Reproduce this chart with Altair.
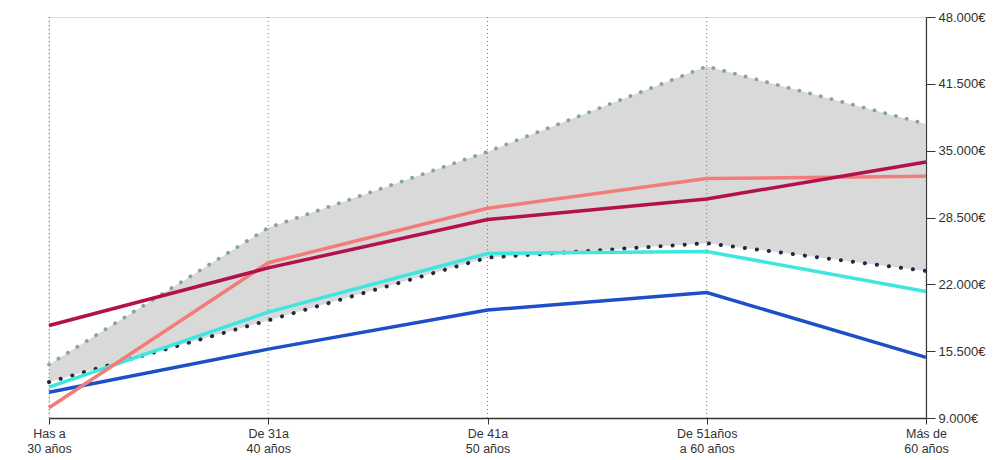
import altair as alt
import pandas as pd

categories = ["Has a\n30 años", "De 31a\n40 años", "De 41a\n50 años", "De 51años\na 60 años", "Más de\n60 años"]
area_top = [14200, 27500, 34900, 43200, 37600]
dark_dotted = [12500, 18500, 24600, 26000, 23300]
crimson = [18000, 23600, 28300, 30300, 33900]
salmon = [10000, 24100, 29400, 32300, 32500]
cyan = [12000, 19300, 25000, 25200, 21300]
blue = [11500, 15700, 19500, 21200, 14900]
y_ticks = [9000, 15500, 22000, 28500, 35000, 41500, 48000]

df = pd.DataFrame({
    "cat": categories,
    "top": area_top,
    "dark": dark_dotted,
    "crimson": crimson,
    "salmon": salmon,
    "cyan": cyan,
    "blue": blue,
})

x = alt.X("cat:N", sort=categories,
          scale=alt.Scale(type="point", padding=0),
          axis=alt.Axis(title=None, labelAngle=0, labelExpr="split(datum.label, '\\n')",
                        labelFontSize=12.5, labelColor="#333", labelFont="Liberation Sans",
                        domainColor="#333", domainWidth=1.5, tickColor="#333", tickSize=6,
                        labelPadding=3, labelLineHeight=15))
yscale = alt.Scale(domain=[9000, 48000], nice=False, zero=False)
yaxis = alt.Axis(title=None, orient="right", values=y_ticks, grid=False,
                 labelExpr="replace(format(datum.value, ','), ',', '.') + '€'",
                 labelFontSize=13, labelColor="#333", labelFont="Liberation Sans",
                 domainColor="#333", domainWidth=1.2, tickColor="#333", tickSize=9,
                 labelPadding=3)

base = alt.Chart(df)

area = base.mark_area(color="#d9d9d9", opacity=1).encode(
    x=x, y=alt.Y("top:Q", scale=yscale, axis=yaxis), y2="dark:Q")

grid = base.mark_rule(color="#777", strokeWidth=1, strokeDash=[1, 3]).encode(
    x=x, y=alt.value(0), y2=alt.value(401))

top_line = base.mark_line(color="#86a796", strokeWidth=3.8, strokeDash=[0.1, 11],
                          strokeCap="round").encode(x=x, y=alt.Y("top:Q", scale=yscale))
dark_line = base.mark_line(color="#262640", strokeWidth=4, strokeDash=[0.1, 12],
                           strokeCap="round").encode(x=x, y=alt.Y("dark:Q", scale=yscale))

def solid(field, color):
    return base.mark_line(color=color, strokeWidth=3.5).encode(
        x=x, y=alt.Y(f"{field}:Q", scale=yscale))

chart = alt.layer(
    area, grid, top_line, dark_line,
    solid("blue", "#1e4fc8"),
    solid("cyan", "#3ee6dd"),
    solid("salmon", "#f27d78"),
    solid("crimson", "#b3114b"),
).properties(
    width=877, height=401,
    autosize=alt.AutoSizeParams(type="none"),
    padding={"left": 41, "top": 9, "right": 68, "bottom": 40},
).configure_view(stroke=None).configure(background="white")

chart.save("out.html", embed_options={"renderer": "svg", "actions": False})
